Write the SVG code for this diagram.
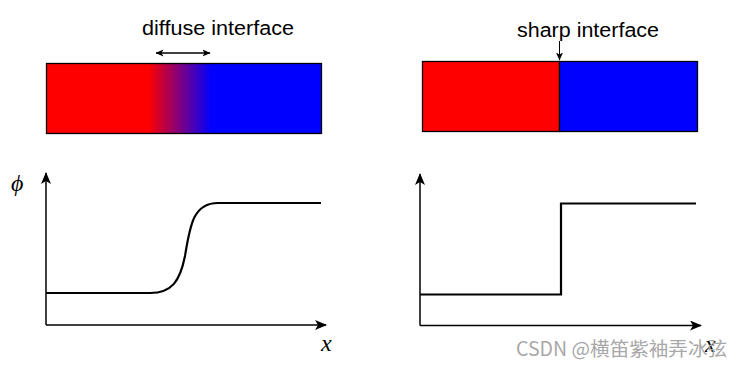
<svg xmlns="http://www.w3.org/2000/svg" width="743" height="369" viewBox="0 0 743 369">
<style>
.lbl{font-family:"Liberation Sans",Arial,sans-serif;font-size:20px;fill:#000}
.math{font-family:"Liberation Serif","DejaVu Serif",serif;font-style:italic;font-size:24px;fill:#000}
.axis{stroke:#000;stroke-width:1.5;fill:none}
.curve{stroke:#000;stroke-width:2.2;fill:none;stroke-linejoin:miter}
.bar{stroke:#000;stroke-width:1.3}
.wm{font-family:"Noto Sans CJK SC","Liberation Sans",sans-serif;font-size:19.5px;fill:#a8a8a8}
</style>
<defs>
<linearGradient id="diff" x1="0" y1="0" x2="1" y2="0">
<stop offset="0" stop-color="#ff0000"/>
<stop offset="0.37" stop-color="#ff0000"/>
<stop offset="0.6" stop-color="#0000ff"/>
<stop offset="1" stop-color="#0000ff"/>
</linearGradient>
<marker id="ax" viewBox="0 0 12 10" refX="11" refY="5" markerWidth="12" markerHeight="10" markerUnits="userSpaceOnUse" orient="auto">
<path d="M0,0 L12,5 L0,10 L3,5 Z" fill="#000"/>
</marker>
<marker id="sm" viewBox="0 0 8 8" refX="7.5" refY="4" markerWidth="8" markerHeight="8" markerUnits="userSpaceOnUse" orient="auto-start-reverse">
<path d="M0,0.5 L8,4 L0,7.5 L2,4 Z" fill="#000"/>
</marker>
</defs>

<g id="diffuse-bar">
<rect class="bar" x="46.5" y="63.5" width="275" height="70" fill="url(#diff)"/>
<text class="lbl" x="142" y="35" textLength="152" lengthAdjust="spacingAndGlyphs">diffuse interface</text>
</g>

<g id="sharp-bar">
<rect class="bar" x="422.5" y="61.5" width="137" height="70" fill="#ff0000"/>
<rect class="bar" x="559.5" y="61.5" width="138" height="70" fill="#0000ff"/>
<text class="lbl" x="517" y="37" textLength="142" lengthAdjust="spacingAndGlyphs">sharp interface</text>
</g>

<g id="diffuse-plot">
<path class="curve" d="M46,293 L150,293 C172,293 180,281 185,256 C190,226 193,203 218,203 L321,203"/>
<text class="math" x="11" y="191">ϕ</text>
<text class="math" x="321" y="351">x</text>
</g>

<g id="sharp-plot">
<path class="curve" d="M420,294.5 L561,294.5 L561,203.5 L696,203.5" stroke-width="2.6"/>
<text class="math" x="705" y="352">x</text>
</g>

<g id="connectors">
<line x1="156" y1="53" x2="210" y2="53" stroke="#000" stroke-width="1.5" marker-start="url(#sm)" marker-end="url(#sm)"/>
<line x1="559.5" y1="41" x2="559.5" y2="60" stroke="#000" stroke-width="1" marker-end="url(#sm)"/>
<line class="axis" x1="46" y1="325" x2="46" y2="173" marker-end="url(#ax)"/>
<line class="axis" x1="46" y1="325" x2="326" y2="325" marker-end="url(#ax)"/>
<line class="axis" x1="420" y1="325.5" x2="420" y2="174" marker-end="url(#ax)"/>
<line class="axis" x1="420" y1="325.5" x2="701" y2="325.5" marker-end="url(#ax)"/>
</g>

<text class="wm" x="516" y="356" textLength="211" lengthAdjust="spacingAndGlyphs">CSDN @横笛紫袖弄冰弦</text>
</svg>
